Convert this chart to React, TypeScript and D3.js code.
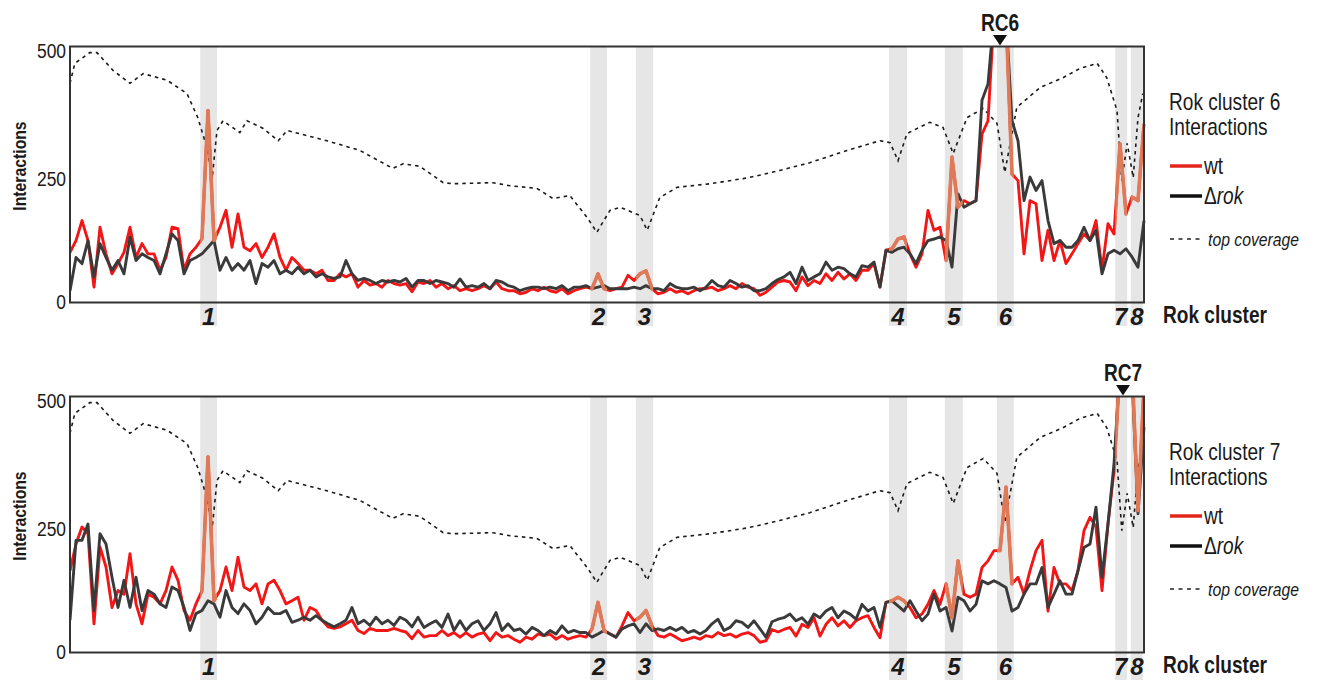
import { useEffect, useRef } from 'react';
import * as d3 from 'd3';

// Interactions per genome bin (values above 500 run off the top)
const wtRC6 = [
  98, 121, 160, 121, 30, 147, 95, 56, 76, 98, 147, 88, 115, 95, 95, 63, 88, 147, 144, 63,
  95, 108, 125, 375, 121, 147, 180, 108, 173, 108, 101, 115, 88, 108, 134, 88, 63, 88, 76, 63,
  63, 56, 63, 43, 43, 56, 50, 56, 30, 43, 34, 37, 30, 43, 37, 34, 37, 21, 40,
  37, 43, 30, 37, 27, 33, 23, 27, 23, 27, 33, 27, 40, 27, 23, 23, 17, 20, 27, 23,
  30, 23, 20, 27, 17, 23, 27, 30, 27, 56, 27, 23, 27, 30, 53, 43, 56, 62, 27, 17,
  20, 27, 20, 23, 17, 23, 27, 27, 30, 23, 27, 33, 27, 37, 30, 27, 14, 20,
  30, 40, 43, 40, 23, 50, 33, 43, 37, 56, 43, 59, 46, 56, 43, 63, 63, 76, 30, 102,
  105, 124, 128, 95, 69, 95, 180, 141, 147, 82, 284, 186, 199, 193, 199, 329, 355, 560, 560, 560,
  251, 238, 95, 199, 193, 82, 141, 82, 121, 76, 95, 115, 134, 121, 160, 63, 154, 134, 310, 173,
  206, 199, 349,
];
const rokRC6 = [
  23, 88, 76, 121, 50, 115, 88, 63, 82, 56, 128, 82, 95, 88, 82, 56, 95, 134, 121, 56,
  82, 88, 95, 108, 121, 63, 88, 63, 76, 63, 82, 37, 76, 69, 82, 56, 63, 56, 69, 56,
  63, 50, 56, 50, 47, 50, 82, 56, 43, 47, 43, 37, 43, 40, 43, 40, 47, 30, 43,
  43, 37, 43, 40, 37, 30, 46, 30, 33, 30, 37, 27, 43, 40, 33, 30, 23, 27, 30, 30,
  27, 30, 27, 33, 23, 30, 30, 33, 27, 30, 33, 27, 27, 27, 27, 30, 27, 33, 27, 27,
  23, 37, 30, 27, 27, 30, 23, 30, 43, 33, 30, 43, 37, 30, 33, 23, 23, 27,
  37, 45, 50, 59, 37, 69, 43, 50, 56, 79, 63, 69, 66, 56, 50, 72, 69, 79, 30, 102,
  98, 105, 108, 95, 76, 102, 121, 124, 128, 121, 69, 212, 186, 193, 199, 395, 427, 560, 560, 560,
  355, 316, 199, 245, 219, 238, 160, 115, 121, 108, 108, 121, 147, 121, 141, 56, 95, 102, 95, 105,
  89, 69, 160,
];
const wtRC7 = [
  160, 212, 245, 232, 56, 206, 167, 88, 121, 114, 193, 95, 56, 114, 108, 95, 121, 167, 141, 82,
  63, 95, 121, 382, 101, 121, 167, 121, 186, 128, 121, 134, 95, 134, 141, 121, 95, 101, 108, 63,
  88, 82, 63, 50, 47, 50, 56, 63, 43, 37, 47, 43, 43, 43, 47, 43, 40, 27, 43,
  30, 33, 33, 43, 33, 39, 30, 39, 30, 36, 39, 23, 39, 30, 33, 26, 20, 30, 26, 36,
  33, 36, 26, 33, 26, 30, 33, 30, 46, 98, 43, 36, 30, 52, 78, 62, 69, 82, 52, 33,
  30, 36, 30, 23, 26, 30, 26, 33, 30, 39, 33, 36, 30, 36, 39, 33, 20, 23,
  45, 40, 45, 49, 32, 55, 49, 68, 32, 55, 68, 52, 62, 49, 62, 68, 72, 49, 29, 98,
  101, 108, 101, 88, 68, 75, 94, 121, 94, 134, 68, 179, 114, 108, 114, 166, 179, 199, 199, 323,
  134, 147, 114, 160, 199, 219, 81, 166, 134, 134, 121, 160, 238, 264, 245, 121, 251, 355, 560, 560,
  560, 277, 520,
];
const rokRC7 = [
  63, 219, 219, 251, 82, 232, 212, 147, 88, 141, 88, 147, 82, 121, 114, 95, 88, 128, 121, 88,
  43, 76, 82, 101, 95, 69, 121, 88, 76, 95, 82, 56, 69, 88, 76, 76, 82, 59, 63, 69,
  63, 72, 63, 56, 50, 56, 63, 88, 56, 63, 53, 69, 56, 63, 53, 69, 63, 50, 69,
  49, 56, 62, 49, 75, 43, 62, 43, 56, 62, 43, 56, 78, 43, 56, 43, 46, 36, 49, 43,
  33, 43, 36, 52, 39, 43, 39, 39, 30, 36, 43, 36, 30, 46, 52, 56, 39, 56, 43, 46,
  43, 49, 43, 49, 39, 43, 36, 43, 56, 65, 43, 49, 62, 59, 49, 62, 46, 30,
  60, 65, 68, 75, 62, 68, 55, 75, 68, 81, 88, 68, 81, 75, 65, 94, 81, 88, 49, 98,
  101, 91, 81, 101, 81, 62, 75, 114, 81, 88, 42, 108, 101, 81, 94, 140, 134, 140, 134, 127,
  81, 88, 114, 134, 134, 166, 88, 114, 140, 114, 114, 160, 205, 212, 284, 147, 251, 368, 560, 560,
  540, 271, 440,
];

// "top coverage" trace: bin position / value
const coveragePos = [
  0, 0.8, 3.3, 4.5, 7.2, 10, 12.2, 16.2, 19.5, 21.3, 22.8, 23.7, 24.5, 25.5, 28.3, 29.5, 32.2, 34.7,
  36.2, 42.8, 48.3, 53.8, 55.5, 58.3, 62.2, 63.8, 70.5, 73.3, 77.8, 80.5, 83.3, 86.2, 87.8, 90, 91.7,
  95, 96.2, 98.3, 101.2, 106.7, 112.2, 115.5, 118.3, 123.3, 129.5, 135, 136.7, 138, 139.5, 143.3,
  145.5, 147.2, 149.5, 152.2, 154.5, 155.8, 157.8, 161.7, 165.5, 168.3, 171.2, 172.8, 174.5, 175.3,
  176.2, 177.2, 178, 178.8,
];
const coverageVal = [
  428, 467, 488, 488, 453, 428, 447, 434, 408, 361, 303, 244, 336, 355, 332, 355, 340, 316,
  336, 316, 297, 262, 271, 266, 234, 232, 234, 228, 223, 203, 209, 166, 137, 180, 186,
  170, 141, 205, 225, 232, 242, 250, 258, 273, 297, 316, 312, 277, 330, 352,
  342, 291, 361, 379, 350, 254, 381, 420, 439, 457, 467, 439, 375, 238,
  311, 244, 361, 408,
];

// Rok clusters (bin ranges of the grey bands)
const clusterLabels = ['1', '2', '3', '4', '5', '6', '7', '8'];
const clusterStart = [21.7, 86.7, 94.3, 136.5, 145.8, 154.5, 174.2, 176.8];
const clusterEnd = [24.5, 89.5, 97.2, 139.5, 148.8, 157.3, 176.2, 178.8];
const clusterLabelPos = [23.1, 88.1, 95.75, 138, 147.3, 155.9, 175.1, 177.8];

const yTicks = [0, 250, 500];
const panelTitles = ['Rok cluster 6', 'Rok cluster 7'];
const markerLabels = ['RC6', 'RC7'];
const markerPos = [155, 175.5];

const FONT = "'Liberation Sans', Arial, sans-serif";
const SQUEEZE = 0.83; // figure uses a condensed face
const RED = '#f21616';
const BLACK = '#3a3a3a';
const ORANGE = '#df7a58';

type Sel = d3.Selection<SVGGElement, unknown, null, undefined>;

// condensed text: position via transform, squeeze horizontally
function label(g: Sel, x: number, y: number, txt: string, size: number, opts: { anchor?: string; weight?: string; italic?: boolean; rotate?: number; sx?: number } = {}) {
  const rot = opts.rotate ? ` rotate(${opts.rotate})` : '';
  return g.append('text')
    .attr('transform', `translate(${x},${y})${rot} scale(${opts.sx ?? SQUEEZE},1)`)
    .attr('text-anchor', opts.anchor ?? 'start')
    .attr('font-size', size)
    .attr('font-weight', opts.weight ?? 'normal')
    .attr('font-style', opts.italic ? 'italic' : 'normal')
    .attr('fill', '#1a1a1a')
    .text(txt);
}

export default function App() {
  const svgRef = useRef<SVGSVGElement>(null);

  useEffect(() => {
    const svg = d3.select(svgRef.current);
    svg.selectAll('*').remove();
    svg.style('font-family', FONT);

    const left = 70, right = 1144, plotH = 256;
    const x = d3.scaleLinear().domain([0, wtRC6.length - 1]).range([left, right]);

    const panels = [
      { top: 46.5, wt: wtRC6, rok: rokRC6, bandBottom: 326 },
      { top: 396.5, wt: wtRC7, rok: rokRC7, bandBottom: 680 },
    ];

    panels.forEach((p, pi) => {
      const y = d3.scaleLinear().domain([0, 500]).range([p.top + plotH, p.top]);
      const dy = p.top - 46.5;
      const g = svg.append('g') as unknown as Sel;
      const clipId = `plot-clip-${pi}`;

      const defs = g.append('defs');
      defs.append('clipPath').attr('id', clipId)
        .append('rect').attr('x', left).attr('y', p.top).attr('width', right - left + 3).attr('height', plotH);
      clusterStart.forEach((s, ci) => {
        defs.append('clipPath').attr('id', `band-${pi}-${ci}`)
          .append('rect').attr('x', x(s)).attr('y', p.top).attr('width', x(clusterEnd[ci]) - x(s)).attr('height', plotH);
      });

      // grey bands
      g.selectAll('rect.band').data(clusterStart).join('rect')
        .attr('class', 'band')
        .attr('x', d => x(d))
        .attr('y', p.top)
        .attr('width', (d, i) => x(clusterEnd[i]) - x(d))
        .attr('height', p.bandBottom - p.top)
        .attr('fill', '#e6e6e6');

      const line = d3.line<number>().x((d, i) => x(i)).y(d => y(d));
      const cov = d3.line<number>().x((d, i) => x(coveragePos[i])).y(d => y(d));

      const plot = g.append('g').attr('clip-path', `url(#${clipId})`);
      plot.append('path').datum(coverageVal).attr('d', cov)
        .attr('fill', 'none').attr('stroke', '#1a1a1a').attr('stroke-width', 1.6)
        .attr('stroke-dasharray', '3.5,4');
      plot.append('path').datum(p.wt).attr('d', line)
        .attr('fill', 'none').attr('stroke', RED).attr('stroke-width', 2.9).attr('stroke-linejoin', 'round');
      plot.append('path').datum(p.rok).attr('d', line)
        .attr('fill', 'none').attr('stroke', BLACK).attr('stroke-width', 2.9).attr('stroke-linejoin', 'round');
      clusterStart.forEach((s, ci) => {
        plot.append('g').attr('clip-path', `url(#band-${pi}-${ci})`)
          .append('path').datum(p.wt).attr('d', line)
          .attr('fill', 'none').attr('stroke', ORANGE).attr('stroke-width', 3.6).attr('stroke-linejoin', 'round');
      });

      // frame
      g.append('rect').attr('x', left).attr('y', p.top).attr('width', right - left).attr('height', plotH)
        .attr('fill', 'none').attr('stroke', '#333').attr('stroke-width', 2);

      // y tick labels
      yTicks.forEach(t => label(g, 66, y(t) + (t === 0 ? 6 : 11), String(t), 21, { anchor: 'end' }));
      label(g, 26, 166 + dy, 'Interactions', 19, { anchor: 'middle', weight: 'bold', rotate: -90 });

      // cluster numbers
      clusterLabels.forEach((c, i) =>
        label(g, x(clusterLabelPos[i]), 325 + dy, c, 24, { anchor: 'middle', weight: 'bold', italic: true, sx: 1 }));
      label(g, 1163, 323 + dy, 'Rok cluster', 23, { weight: 'bold' });

      // RC marker
      const mx = x(markerPos[pi]);
      label(g, mx, p.top - 16, markerLabels[pi], 23, { anchor: 'middle', weight: 'bold' });
      g.append('path')
        .attr('d', `M${mx - 7},${p.top - 11.5}L${mx + 7},${p.top - 11.5}L${mx},${p.top - 1}Z`)
        .attr('fill', '#111');

      // legend
      const lg = g.append('g').attr('transform', `translate(0,${dy})`) as unknown as Sel;
      label(lg, 1169, 110, panelTitles[pi], 23);
      label(lg, 1169, 135, 'Interactions', 23);
      lg.append('line').attr('x1', 1170).attr('x2', 1202).attr('y1', 166).attr('y2', 166)
        .attr('stroke', '#e3261c').attr('stroke-width', 3.5);
      label(lg, 1204, 174, 'wt', 23);
      lg.append('line').attr('x1', 1170).attr('x2', 1202).attr('y1', 196).attr('y2', 196)
        .attr('stroke', '#111').attr('stroke-width', 3.5);
      const dt = label(lg, 1204, 204, '', 23);
      dt.append('tspan').text('Δ');
      dt.append('tspan').attr('font-style', 'italic').text('rok');
      lg.append('line').attr('x1', 1170).attr('x2', 1203).attr('y1', 239).attr('y2', 239)
        .attr('stroke', '#222').attr('stroke-width', 1.4).attr('stroke-dasharray', '4,4.5');
      label(lg, 1208, 246, 'top coverage', 19, { italic: true });
    });
  }, []);

  return (
    <svg ref={svgRef} width={1325} height={680}
      style={{ position: 'absolute', left: 0, top: 0, background: '#fff' }} />
  );
}
